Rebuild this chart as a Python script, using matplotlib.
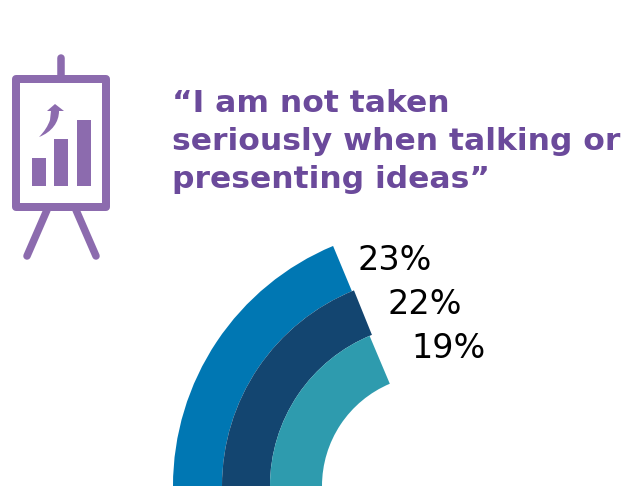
"""Survey quote with three concentric ring segments and an easel icon."""
import matplotlib

matplotlib.use("Agg")

import matplotlib.pyplot as plt
from matplotlib.patches import PathPatch, Rectangle, Wedge
from matplotlib.path import Path

WIDTH, HEIGHT = 622, 486
DPI = 100

quote_lines = ["“I am not taken", "seriously when talking or", "presenting ideas”"]
percent_labels = ["23%", "22%", "19%"]
ring_sweeps = [67.4, 68.0, 67.1]  # degrees, counted clockwise from the left horizontal
ring_colors = ["#0077B3", "#134570", "#2E9BAE"]

ICON = "#8C6BAE"
QUOTE = "#6B4A9B"


def y_up(py):
    """Convert a y position counted from the top into axes data."""
    return HEIGHT - py


def px(width):
    """Line width in points for a width given in pixels."""
    return width * 72 / DPI


def draw_rings(ax):
    center = (433, y_up(486))
    edges = [260, 211, 163, 111]
    for i, sweep in enumerate(ring_sweeps):
        ax.add_patch(Wedge(center, edges[i], 180 - sweep, 180,
                           width=edges[i] - edges[i + 1],
                           facecolor=ring_colors[i], edgecolor="none"))


def draw_icon(ax):
    # easel frame, top pole and legs
    ax.add_patch(Rectangle((16, y_up(207)), 90, 128, fill=False, edgecolor=ICON,
                           linewidth=px(8), joinstyle="round"))
    for xs, ys in [([61, 61], [76, 58]), ([47, 27], [210, 256]), ([76, 96], [210, 256])]:
        ax.plot(xs, [y_up(y) for y in ys], color=ICON, linewidth=px(7.5),
                solid_capstyle="round")

    # small bars on the board
    for left, top, right in [(32, 158, 46), (54, 139, 68), (77, 120, 91)]:
        ax.add_patch(Rectangle((left, y_up(186)), right - left, 186 - top,
                               facecolor=ICON, edgecolor="none"))

    # curved arrow above the bars
    verts = [(39, 137), (47, 129), (50, 120), (51, 111), (47, 111), (55, 104),
             (64, 111), (59, 111), (59, 122), (52, 132), (39, 137), (39, 137)]
    codes = [Path.MOVETO, Path.CURVE3, Path.CURVE3, Path.LINETO, Path.LINETO,
             Path.LINETO, Path.LINETO, Path.LINETO, Path.CURVE4, Path.CURVE4,
             Path.CURVE4, Path.CLOSEPOLY]
    verts = [(x, y_up(y)) for x, y in verts]
    ax.add_patch(PathPatch(Path(verts, codes), facecolor=ICON, edgecolor="none"))


fig = plt.figure(figsize=(WIDTH / DPI, HEIGHT / DPI), dpi=DPI, facecolor="white")
ax = fig.add_axes([0, 0, 1, 1])
ax.set_xlim(0, WIDTH)
ax.set_ylim(0, HEIGHT)
ax.axis("off")

draw_icon(ax)
draw_rings(ax)

for line, baseline in zip(quote_lines, [111.5, 149.5, 187.5]):
    ax.text(172, y_up(baseline), line, color=QUOTE, fontsize=22.55,
            fontweight="bold", family="DejaVu Sans", va="baseline", ha="left")

for label, x, baseline in zip(percent_labels, [358, 387, 411], [269.5, 313.5, 358.5]):
    ax.text(x, y_up(baseline), label, color="black", fontsize=24,
            family="DejaVu Sans", va="baseline", ha="left")

fig.savefig("out.png", dpi=DPI)
